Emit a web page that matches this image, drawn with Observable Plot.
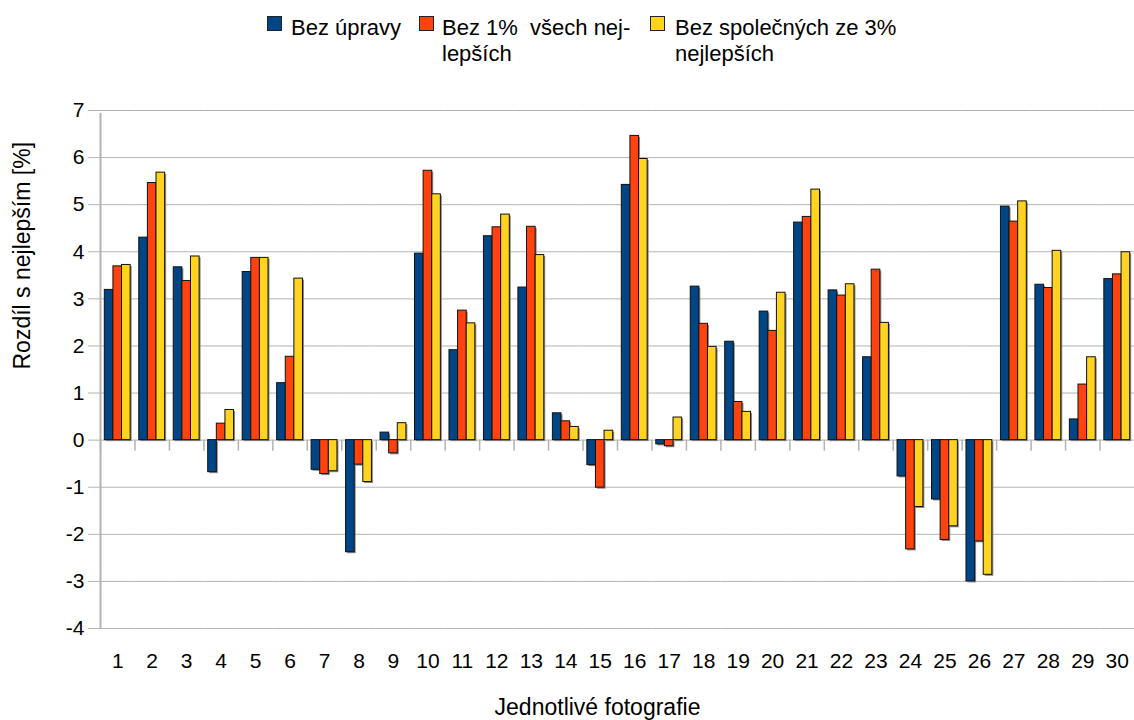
<!DOCTYPE html>
<html>
<head>
<meta charset="utf-8">
<script src="https://cdn.jsdelivr.net/npm/d3@7"></script>
<script src="https://cdn.jsdelivr.net/npm/@observablehq/plot@0.6"></script>
<style>
  html, body { margin: 0; padding: 0; background: #fff; }
  body { width: 1134px; height: 720px; overflow: hidden; font-family: "Liberation Sans", Arial, sans-serif; }
  #legend { position: relative; height: 80px; width: 1134px; }
  .sw { position: absolute; top: 16px; width: 15px; height: 15px; box-sizing: border-box; border: 1px solid #222; }
  .lt { position: absolute; top: 15px; font-size: 22px; line-height: 26px; color: #000; white-space: pre; }
</style>
</head>
<body>
<div id="legend"></div>
<div id="chart"></div>
<script>
// ---- data ----
const categories = ["1","2","3","4","5","6","7","8","9","10","11","12","13","14","15","16","17","18","19","20","21","22","23","24","25","26","27","28","29","30"];
const seriesNames = ["Bez úpravy", "Bez 1%  všech nej-\nlepších", "Bez společných ze 3%\nnejlepších"];
const seriesColors = ["#004586", "#ff420e", "#ffd320"];
const bezUpravy = [3.19, 4.30, 3.67, -0.68, 3.57, 1.21, -0.63, -2.38, 0.16, 3.96, 1.91, 4.33, 3.24, 0.57, -0.53, 5.42, -0.09, 3.26, 2.09, 2.73, 4.62, 3.18, 1.76, -0.77, -1.26, -3.00, 4.96, 3.30, 0.44, 3.42];
const bez1Vsech = [3.69, 5.46, 3.38, 0.35, 3.87, 1.77, -0.72, -0.52, -0.28, 5.72, 2.75, 4.52, 4.53, 0.40, -1.01, 6.46, -0.13, 2.47, 0.81, 2.32, 4.74, 3.07, 3.62, -2.32, -2.12, -2.15, 4.64, 3.23, 1.18, 3.52];
const bezSpolecnych3 = [3.72, 5.68, 3.90, 0.64, 3.87, 3.43, -0.66, -0.89, 0.36, 5.22, 2.48, 4.79, 3.93, 0.28, 0.20, 5.97, 0.48, 1.98, 0.60, 3.13, 5.32, 3.31, 2.49, -1.42, -1.83, -2.86, 5.07, 4.02, 1.76, 3.99];
const yTicks = [-4, -3, -2, -1, 0, 1, 2, 3, 4, 5, 6, 7];
const yTitle = "Rozdíl s nejlepším [%]";
const xTitle = "Jednotlivé fotografie";

const valueSets = [bezUpravy, bez1Vsech, bezSpolecnych3];
const rows = categories.flatMap((c, i) => seriesNames.map((s, j) => ({c, s, v: valueSets[j][i]})));

// ---- legend ----
const legend = document.getElementById("legend");
const legendPos = [[267, 291], [419, 442], [650, 675]];
seriesNames.forEach((name, j) => {
  const sw = document.createElement("div");
  sw.className = "sw";
  sw.style.left = legendPos[j][0] + "px";
  sw.style.background = seriesColors[j];
  legend.appendChild(sw);
  const t = document.createElement("div");
  t.className = "lt";
  t.style.left = legendPos[j][1] + "px";
  t.textContent = name;
  legend.appendChild(t);
});

// ---- chart ----
const W = 1134, mL = 100, mR = 0;
const innerStep = (W - mL - mR) / categories.length / 4;
const grid = "#b3b3b3";

const chart = Plot.plot({
  width: W,
  height: 640,
  marginTop: 30,
  marginBottom: 92,
  marginLeft: mL,
  marginRight: mR,
  style: {fontFamily: "'Liberation Sans', Arial, sans-serif", fontSize: "21px", color: "#000", background: "#fff"},
  fx: {domain: categories, padding: 0, round: false},
  x: {domain: seriesNames, paddingInner: 0, paddingOuter: 0.5, round: false, axis: null},
  y: {domain: [-4, 7]},
  color: {domain: seriesNames, range: seriesColors},
  marks: [
    Plot.gridY(yTicks, {stroke: grid, strokeOpacity: 1}),
    Plot.ruleX(categories, {fx: d => d, x: () => seriesNames[0], y1: 0, y2: 0, insetBottom: -11, dx: -innerStep, stroke: grid, strokeWidth: 1.5}),
    Plot.ruleX([categories[0]], {fx: d => d, x: () => seriesNames[0], y1: -4, y2: 7, insetBottom: -3, dx: -innerStep, stroke: grid, strokeWidth: 2}),
    Plot.barY(rows, {fx: "c", x: "s", y1: 0, y2: "v", fill: "#8a8a8a", dx: 1.5, dy: 1.5}),
    Plot.barY(rows, {fx: "c", x: "s", y1: 0, y2: "v", fill: "s", stroke: "#111", strokeWidth: 1}),
    Plot.axisY(yTicks, {tickSize: 12, tickPadding: 4, stroke: grid, label: null, tickFormat: d => d}),
    Plot.axisFx({anchor: "bottom", tickSize: 0, tickPadding: 25, label: null}),
    Plot.text([yTitle], {facet: "super", frameAnchor: "left", rotate: -90, dx: -78, fontSize: 23, fill: "#000"}),
    Plot.text([xTitle], {facet: "super", frameAnchor: "bottom", dy: 86, dx: -20, fontSize: 23, fill: "#000"})
  ]
});
document.getElementById("chart").appendChild(chart);
</script>
</body>
</html>
